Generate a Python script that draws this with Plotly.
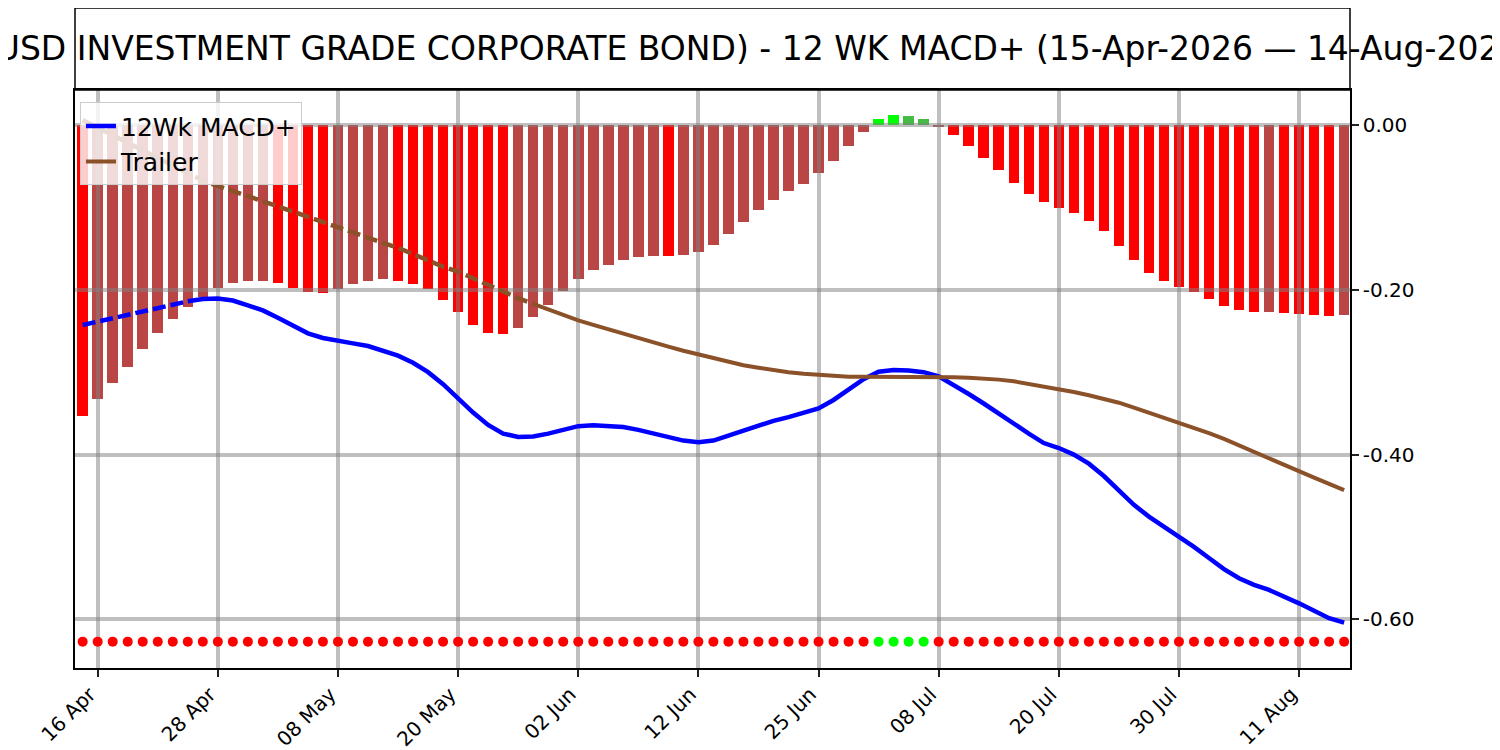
import pandas as pd
import plotly.graph_objects as go

# ---------------- data ----------------
holidays = ["2026-05-25", "2026-06-19", "2026-07-03"]
dates = pd.bdate_range("2026-04-15", "2026-08-14", freq="C",
                       holidays=holidays).strftime("%Y-%m-%d").tolist()

tick_dates = ["2026-04-16", "2026-04-28", "2026-05-08", "2026-05-20", "2026-06-02",
              "2026-06-12", "2026-06-25", "2026-07-08", "2026-07-20", "2026-07-30",
              "2026-08-11"]
tick_labels = ["16 Apr", "28 Apr", "08 May", "20 May", "02 Jun", "12 Jun",
               "25 Jun", "08 Jul", "20 Jul", "30 Jul", "11 Aug"]

y_tick_vals = [0.0, -0.2, -0.4, -0.6]
y_tick_text = ["0.00", "-0.20", "-0.40", "-0.60"]

histogram = [
    -0.353, -0.333, -0.3125, -0.2935, -0.2717, -0.2523, -0.2353, -0.2207, -0.2090, -0.1977,
    -0.1916, -0.1895, -0.1890, -0.1916, -0.1977, -0.2030, -0.2040, -0.1985, -0.1928, -0.1892,
    -0.1864, -0.1892, -0.1928, -0.1993, -0.2122, -0.2268, -0.2426, -0.2523, -0.2535, -0.2462,
    -0.2329, -0.2187, -0.2009, -0.1866, -0.1756, -0.1698, -0.1637, -0.1603, -0.1586, -0.1592,
    -0.1577, -0.1540, -0.1455, -0.1322, -0.1176, -0.1031, -0.0910, -0.0800, -0.0716, -0.0582,
    -0.0437, -0.0255, -0.0085, 0.0072, 0.0120, 0.0108, 0.0072, -0.0012, -0.0121, -0.0255,
    -0.0400, -0.0542, -0.0700, -0.0833, -0.0930, -0.1003, -0.1072, -0.1169, -0.1290, -0.1472,
    -0.1642, -0.1800, -0.1890, -0.1970, -0.2030, -0.2116, -0.2200, -0.2249, -0.2272, -0.2270,
    -0.2276, -0.2297, -0.2310, -0.2322, -0.2310,
]

macd = [
    -0.2427, -0.2385, -0.2345, -0.2305, -0.2262, -0.2222, -0.2180, -0.2140, -0.2112, -0.2106,
    -0.2130, -0.2188, -0.2250, -0.2340, -0.2440, -0.2528, -0.2585, -0.2622, -0.2650, -0.2682,
    -0.2735, -0.2800, -0.2885, -0.3000, -0.3145, -0.3320, -0.3490, -0.3640, -0.3745, -0.3785,
    -0.3780, -0.3745, -0.3695, -0.3655, -0.3645, -0.3650, -0.3665, -0.3700, -0.3745, -0.3790,
    -0.3830, -0.3850, -0.3830, -0.3770, -0.3710, -0.3650, -0.3590, -0.3545, -0.3495, -0.3440,
    -0.3337, -0.3215, -0.3085, -0.2995, -0.2973, -0.2980, -0.3000, -0.3050, -0.3150, -0.3265,
    -0.3380, -0.3505, -0.3630, -0.3745, -0.3860, -0.3920, -0.4000, -0.4110, -0.4260, -0.4440,
    -0.4610, -0.4753, -0.4870, -0.4990, -0.5120, -0.5255, -0.5390, -0.5500, -0.5580, -0.5643,
    -0.5720, -0.5805, -0.5895, -0.5985, -0.6040,
]

trailer = [
    0.0060, -0.0030, -0.0120, -0.0215, -0.0305, -0.0395, -0.0490, -0.0580, -0.0675, -0.0740,
    -0.0800, -0.0860, -0.0920, -0.0985, -0.1050, -0.1115, -0.1180, -0.1240, -0.1305, -0.1370,
    -0.1430, -0.1490, -0.1570, -0.1645, -0.1720, -0.1780, -0.1860, -0.1940, -0.2025, -0.2100,
    -0.2170, -0.2240, -0.2310, -0.2370, -0.2425, -0.2480, -0.2535, -0.2590, -0.2640, -0.2690,
    -0.2740, -0.2785, -0.2828, -0.2870, -0.2915, -0.2945, -0.2975, -0.3000, -0.3020, -0.3035,
    -0.3050, -0.3054, -0.3055, -0.3055, -0.3055, -0.3055, -0.3055, -0.3055, -0.3060, -0.3068,
    -0.3076, -0.3090, -0.3110, -0.3140, -0.3172, -0.3205, -0.3240, -0.3280, -0.3320, -0.3370,
    -0.3430, -0.3490, -0.3555, -0.3620, -0.3680, -0.3740, -0.3810, -0.3890, -0.3970, -0.4045,
    -0.4120, -0.4200, -0.4280, -0.4355, -0.4430,
]

macd_warmup = 7      # points drawn dashed (indicator warm-up)
trailer_warmup = 30
signal_level = -0.627

title_text = ("USIG (USD INVESTMENT GRADE CORPORATE BOND) - 12 WK MACD+ "
              "(15-Apr-2026 \u2014 14-Aug-2026)")

# ---------------- styling helpers ----------------
BRIGHT_RED, DARK_RED = "#FF0000", "#BA4545"
BRIGHT_GREEN, DARK_GREEN = "#00FF00", "#44BB44"

bar_colors = []
for i, v in enumerate(histogram):
    prev = histogram[i - 1] if i > 0 else None
    if v >= 0:
        bar_colors.append(BRIGHT_GREEN if (prev is None or v > prev) else DARK_GREEN)
    else:
        if prev is None or (prev < 0 and v < prev):
            bar_colors.append(BRIGHT_RED)
        else:
            bar_colors.append(DARK_RED)

dot_colors = [BRIGHT_GREEN if v > 0 else BRIGHT_RED for v in histogram]

FONT = "DejaVu Sans"
BLUE = "#0000FF"
BROWN = "#8B5129"
GRID = "rgba(128,128,128,0.5)"

fig = go.Figure()

# bars on the lower subplot (grid of the upper subplot is drawn over them)
fig.add_trace(go.Bar(x=dates, y=histogram, marker=dict(color=bar_colors, line=dict(width=0)),
                     width=0.7, showlegend=False, xaxis="x", yaxis="y"))

# lines + dots on the upper subplot
fig.add_trace(go.Scatter(x=dates[macd_warmup:], y=macd[macd_warmup:], mode="lines",
                         name="12Wk MACD+", line=dict(color=BLUE, width=4.5),
                         legendgroup="m", xaxis="x2", yaxis="y2"))
fig.add_trace(go.Scatter(x=dates[:macd_warmup + 1], y=macd[:macd_warmup + 1], mode="lines",
                         showlegend=False, line=dict(color=BLUE, width=4.5, dash="13px,5px"),
                         legendgroup="m", xaxis="x2", yaxis="y2"))
fig.add_trace(go.Scatter(x=dates[trailer_warmup:], y=trailer[trailer_warmup:], mode="lines",
                         name="Trailer", line=dict(color=BROWN, width=4),
                         legendgroup="t", xaxis="x2", yaxis="y2"))
fig.add_trace(go.Scatter(x=dates[:trailer_warmup + 1], y=trailer[:trailer_warmup + 1],
                         mode="lines", showlegend=False,
                         line=dict(color=BROWN, width=4.5, dash="13px,5px"),
                         legendgroup="t", xaxis="x2", yaxis="y2"))
fig.add_trace(go.Scatter(x=dates, y=[signal_level] * len(dates), mode="markers",
                         showlegend=False, marker=dict(color=dot_colors, size=10),
                         xaxis="x2", yaxis="y2"))

x_range = [-0.51, len(dates) - 1 + 0.39]
y_range = [-0.659, 0.0425]

# page body has an 8px margin: figure is offset by 8px, so margins compensate
fig.update_layout(
    width=1492, height=742,
    margin=dict(l=67, r=150, t=82, b=82, autoexpand=False),
    paper_bgcolor="white", plot_bgcolor="rgba(0,0,0,0)",
    font=dict(family=FONT, color="black"),
    bargap=0,
    xaxis=dict(type="category", categoryorder="array", categoryarray=dates,
               range=x_range, showgrid=False, showticklabels=False, ticks="",
               showline=False, zeroline=False, anchor="y", domain=[0, 1],
               automargin=False),
    yaxis=dict(range=y_range, showgrid=False, showticklabels=False, ticks="",
               showline=False, zeroline=False, anchor="x", domain=[0, 1],
               automargin=False),
    xaxis2=dict(type="category", categoryorder="array", categoryarray=dates,
                range=x_range, anchor="y2", domain=[0, 1], automargin=False,
                showgrid=True, gridcolor=GRID, gridwidth=3.5,
                tickmode="array", tickvals=tick_dates, ticktext=tick_labels,
                tickangle=-45, tickfont=dict(size=20, family=FONT, color="black"),
                ticklabelshift=-8, ticklabelstandoff=-2,
                ticks="outside", ticklen=7, tickwidth=1.5, tickcolor="#222",
                showline=True, linecolor="black", linewidth=1.5, mirror=True,
                zeroline=False),
    yaxis2=dict(range=y_range, anchor="x2", domain=[0, 1], side="right", automargin=False,
                showgrid=True, gridcolor=GRID, gridwidth=3.5,
                tickmode="array", tickvals=y_tick_vals, ticktext=y_tick_text,
                tickfont=dict(size=20, family=FONT, color="black"),
                ticks="outside", ticklen=7, tickwidth=1.5, tickcolor="#222",
                showline=True, linecolor="black", linewidth=1.5, mirror=True,
                zeroline=False),
    legend=dict(x=0.0039, y=0.979, xanchor="left", yanchor="top",
                bgcolor="rgba(255,255,255,0.8)", bordercolor="#CCCCCC", borderwidth=1,
                font=dict(size=25, family=FONT, color="black"), itemwidth=30,
                tracegroupgap=0),
)

# title box
fig.add_shape(type="rect", xref="paper", yref="paper", x0=0, x1=1, y0=1, y1=1 + 82 / 578,
              line=dict(color="black", width=1.5), fillcolor="rgba(0,0,0,0)", layer="above")
fig.add_annotation(text=title_text, xref="paper", yref="paper", x=0.5, y=1 + 41 / 578,
                   xanchor="center", yanchor="middle", showarrow=False,
                   font=dict(size=33, family=FONT, color="black"))

fig.write_html("out.html")
